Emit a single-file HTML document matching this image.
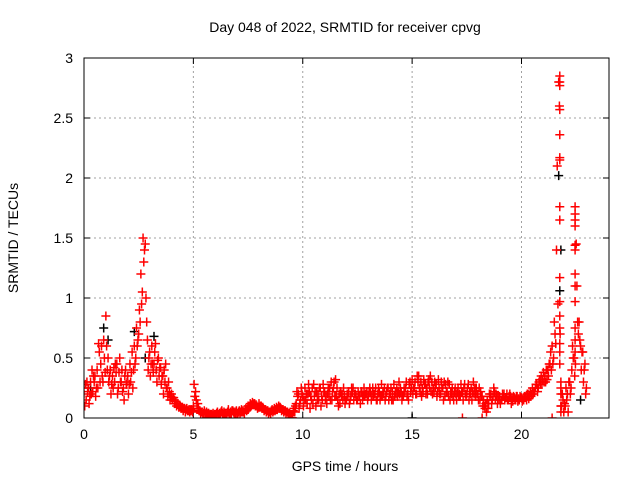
<!DOCTYPE html>
<html><head><meta charset="utf-8"><style>
body{margin:0;background:#fff}
svg{display:block;font-family:"Liberation Sans",sans-serif}
</style></head><body>
<svg id="chart" width="640" height="480" xmlns="http://www.w3.org/2000/svg">
<rect width="640" height="480" fill="#fff"/>
<text x="345" y="32" font-size="14" text-anchor="middle">Day 048 of 2022, SRMTID for receiver cpvg</text>
<text x="345" y="471" font-size="14" text-anchor="middle">GPS time / hours</text>
<text x="18" y="238" font-size="14" text-anchor="middle" transform="rotate(-90 18 238)">SRMTID / TECUs</text>
<g id="grid"></g>
<g id="axes"></g>
<defs><clipPath id="pc"><rect x="84" y="54" width="525" height="364"/></clipPath></defs>
<g id="marks" clip-path="url(#pc)"></g>
<rect x="84" y="58" width="525" height="360" fill="none" stroke="#000" stroke-width="1"/>
</svg>
<script>
const xTicks=[0,5,10,15,20];
const yTicks=[0,0.5,1,1.5,2,2.5,3];
const yTickLabels=["0","0.5","1","1.5","2","2.5","3"];
const tStart=0, tStep=0.1;
const valsA=[
0.20,0.15,0.25,0.30,0.22,0.35,0.40,0.55,0.60,0.65,
0.85,0.50,0.40,0.35,0.30,0.45,0.38,0.30,0.25,0.40,
0.35,0.45,0.55,0.60,0.75,0.70,1.20,1.50,1.45,0.65,
0.55,0.60,0.45,0.40,0.50,0.42,0.35,0.30,0.25,0.22,
0.20,0.17,0.14,0.12,0.10,0.09,0.08,0.08,0.07,0.07,
0.10,0.22,0.12,0.06,0.05,0.06,0.05,0.04,0.03,0.04,
0.03,0.05,0.04,0.06,0.05,0.04,0.07,0.05,0.06,0.05,
0.04,0.06,0.07,0.05,0.08,0.10,0.12,0.13,0.12,0.10,
0.12,0.10,0.08,0.07,0.06,0.05,0.07,0.08,0.09,0.10,
0.08,0.07,0.06,0.05,0.04,0.00,0.08,0.12,0.20,0.15,
0.18,0.25,0.12,0.22,0.15,0.28,0.10,0.20,0.25,0.15,
0.22,0.12,0.18,0.30,0.25,0.32,0.15,0.12,0.20,0.18,
0.15,0.22,0.18,0.25,0.20,0.15,0.18,0.22,0.25,0.20,
0.18,0.22,0.25,0.20,0.15,0.22,0.28,0.20,0.18,0.25,
0.20,0.22,0.18,0.25,0.30,0.22,0.18,0.25,0.20,0.30,
0.32,0.25,0.20,0.35,0.30,0.22,0.28,0.20,0.25,0.30,
0.22,0.28,0.32,0.20,0.25,0.18,0.22,0.28,0.20,0.15,
0.20,0.25,0.18,0.22,0.28,0.20,0.15,0.25,0.30,0.18,
0.20,0.15,0.18,0.10,0.05,0.12,0.20,0.18,0.15,0.12,
0.18,0.15,0.20,0.17,0.15,0.18,0.14,0.16,0.18,0.15,
0.17,0.15,0.18,0.20,0.22,0.25,0.22,0.28,0.30,0.35,
0.38,0.30,0.40,0.45,0.60,0.80,1.40,2.80,0.30,0.15,
0.10,0.20,0.30,0.40,0.50,1.45,0.70,0.60,0.55,0.45];
const valsB=[
0.10,0.30,0.12,0.20,0.35,0.18,0.25,0.30,0.35,0.50,
0.60,0.30,0.20,0.25,0.45,0.20,0.50,0.40,0.15,0.28,
0.20,0.30,0.25,0.45,0.60,0.90,0.95,1.30,1.00,0.40,
0.35,0.45,0.55,0.30,0.35,0.28,0.20,0.45,0.18,0.15,
0.15,0.12,0.10,0.09,0.08,0.06,0.05,0.06,0.05,0.06,
0.28,0.15,0.08,0.04,0.03,0.04,0.00,0.02,0.03,0.02,
0.02,0.03,0.02,0.04,0.03,0.02,0.04,0.03,0.05,0.04,
0.03,0.04,0.05,0.04,0.06,0.08,0.10,0.11,0.10,0.08,
0.09,0.08,0.06,0.05,0.04,0.04,0.05,0.06,0.07,0.08,
0.06,0.05,0.04,0.03,0.02,0.00,0.05,0.22,0.08,0.25,
0.10,0.15,0.20,0.08,0.25,0.18,0.22,0.15,0.10,0.28,
0.15,0.20,0.25,0.15,0.30,0.18,0.10,0.22,0.15,0.12,
0.20,0.12,0.25,0.15,0.18,0.22,0.12,0.15,0.18,0.22,
0.22,0.15,0.18,0.25,0.20,0.15,0.18,0.25,0.22,0.15,
0.25,0.15,0.22,0.18,0.20,0.15,0.25,0.30,0.15,0.22,
0.20,0.30,0.35,0.25,0.18,0.32,0.20,0.30,0.35,0.20,
0.30,0.18,0.25,0.30,0.15,0.28,0.30,0.15,0.25,0.22,
0.15,0.18,0.28,0.15,0.20,0.25,0.22,0.15,0.20,0.25,
0.15,0.22,0.10,0.08,0.15,0.20,0.12,0.25,0.20,0.18,
0.12,0.20,0.15,0.20,0.18,0.12,0.18,0.15,0.14,0.18,
0.14,0.18,0.15,0.16,0.18,0.20,0.25,0.22,0.32,0.28,
0.30,0.40,0.35,0.55,0.45,0.70,2.10,2.60,0.10,0.05,
0.25,0.05,0.20,0.60,0.35,1.10,0.80,0.40,0.30,0.20];
const valsC=[
0.28,0.22,0.18,0.40,0.30,0.25,0.62,0.45,0.30,0.38,
0.40,0.35,0.28,0.42,0.38,0.25,0.30,0.22,0.35,0.30,
0.28,0.38,0.40,0.50,0.65,0.80,1.05,1.40,0.80,0.50,
0.45,0.38,0.62,0.48,0.42,0.35,0.40,0.25,0.30,0.18,
0.17,0.14,0.12,0.10,0.09,0.08,0.07,0.06,0.06,0.05,
0.18,0.08,0.06,0.05,0.04,0.03,0.04,0.03,0.02,0.03,
0.04,0.03,0.05,0.03,0.04,0.05,0.03,0.06,0.04,0.06,
0.05,0.05,0.06,0.07,0.07,0.09,0.11,0.12,0.11,0.09,
0.10,0.09,0.07,0.06,0.05,0.06,0.06,0.07,0.08,0.09,
0.07,0.06,0.05,0.04,0.03,0.06,0.10,0.18,0.12,0.20,
0.15,0.20,0.28,0.18,0.12,0.22,0.15,0.25,0.18,0.22,
0.18,0.25,0.15,0.22,0.18,0.25,0.20,0.18,0.25,0.15,
0.18,0.15,0.22,0.20,0.15,0.18,0.22,0.18,0.20,0.15,
0.25,0.18,0.20,0.15,0.25,0.18,0.22,0.15,0.25,0.20,
0.15,0.28,0.20,0.22,0.25,0.18,0.22,0.18,0.28,0.25,
0.25,0.20,0.30,0.22,0.25,0.28,0.25,0.32,0.22,0.25,
0.25,0.22,0.20,0.25,0.30,0.22,0.18,0.22,0.18,0.25,
0.22,0.20,0.22,0.25,0.18,0.28,0.20,0.22,0.25,0.20,
0.25,0.18,0.15,0.12,0.08,0.18,0.15,0.22,0.18,0.15,
0.15,0.18,0.17,0.15,0.20,0.16,0.17,0.18,0.16,0.17,
0.16,0.17,0.20,0.18,0.20,0.22,0.28,0.25,0.28,0.32,
0.35,0.32,0.45,0.40,0.50,0.62,0.95,0.70,0.20,0.12,
0.15,0.30,0.25,0.50,0.45,0.80,0.65,0.55,0.40,0.25];
const spikeT=[21.75,21.75,21.75,21.75,21.75,21.75,21.75,21.75,21.75,21.75,21.75,21.75,21.75,21.75,21.75,21.75,21.8,21.8,21.8,21.8,
22.45,22.45,22.45,22.45,22.45,22.45,22.45,22.45,22.45,22.45,22.45,22.45,17.3,18.2,21.4,5.7,9.5];
const spikeV=[2.85,2.80,2.77,2.57,2.36,2.17,2.15,1.76,1.65,1.17,0.97,0.85,0.75,0.62,0.55,0.45,0.20,0.10,0.05,0.25,
1.76,1.70,1.65,1.60,1.44,1.40,1.20,1.10,0.97,0.75,0.65,0.55,0.0,0.0,0.0,0.0,0.0];
const blackT=[0.9,1.1,2.3,2.8,3.2,21.7,21.75,21.8,22.7,15.0,0.3];
const blackV=[0.75,0.65,0.72,0.50,0.68,2.02,1.06,1.40,0.15,0.0,0.25];

const X0=84,X1=609,Y0=418,Y1=58,XMAX=24,YMAX=3;
const xs=t=>X0+(t/XMAX)*(X1-X0);
const ys=v=>Y0-(v/YMAX)*(Y0-Y1);
const NS="http://www.w3.org/2000/svg";
function mk(tag,attrs,parent){const e=document.createElementNS(NS,tag);for(const k in attrs)e.setAttribute(k,attrs[k]);parent.appendChild(e);return e;}
const grid=document.getElementById('grid'),axes=document.getElementById('axes'),marks=document.getElementById('marks');
xTicks.forEach((t,i)=>{
  const x=xs(t);
  if(i>0){const g=mk('line',{x1:x,x2:x,y1:Y0,y2:Y1,stroke:'#a0a0a0','stroke-dasharray':'2,3'},grid);
  
  }
  mk('line',{x1:x,x2:x,y1:Y0,y2:Y0-6,stroke:'#000'},axes);
  mk('line',{x1:x,x2:x,y1:Y1,y2:Y1+6,stroke:'#000'},axes);
  const l=mk('text',{x:x,y:Y0+21,'font-size':14,'text-anchor':'middle'},axes);
  l.textContent=String(t);
  
  
});
yTicks.forEach((v,i)=>{
  const y=ys(v);
  if(i>0&&i<yTicks.length-1){const g=mk('line',{x1:X0,x2:X1,y1:y,y2:y,stroke:'#a0a0a0','stroke-dasharray':'2,3'},grid);
  
  }
  mk('line',{x1:X0,x2:X0+6,y1:y,y2:y,stroke:'#000'},axes);
  mk('line',{x1:X1,x2:X1-6,y1:y,y2:y,stroke:'#000'},axes);
  const l=mk('text',{x:X0-11,y:y+5,'font-size':14,'text-anchor':'end'},axes);
  l.textContent=yTickLabels[i];
  
  
});
function plus(t,v,color,name){
  const x=xs(t),y=ys(v);
  const p=mk('path',{d:`M${x-4.5},${y}h9M${x},${y-4.5}v9`,stroke:color,'stroke-width':1.5,fill:'none'},marks);
  
  
}
blackT.forEach((t,i)=>plus(t,blackV[i],'#000','black-point'));
valsA.forEach((v,i)=>plus(tStart+i*tStep,v,'#f00','red-point'));
valsB.forEach((v,i)=>plus(tStart+i*tStep+0.033,v,'#f00','red-point'));
valsC.forEach((v,i)=>plus(tStart+i*tStep+0.066,v,'#f00','red-point'));
spikeT.forEach((t,i)=>plus(t,spikeV[i],'#f00','red-point'));
</script>
</body></html>
